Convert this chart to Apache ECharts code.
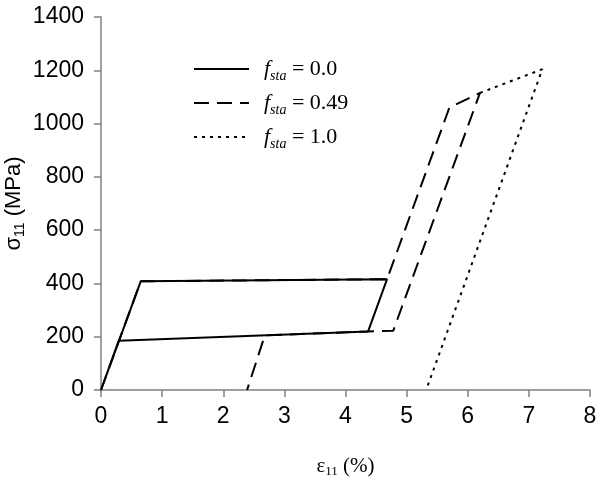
<!DOCTYPE html>
<html>
<head>
<meta charset="utf-8">
<script src="https://cdn.jsdelivr.net/npm/echarts@6/dist/echarts.min.js"></script>
<style>
  html, body { margin: 0; padding: 0; background: #fff; }
  #chart { width: 596px; height: 494px; }
</style>
</head>
<body>
<div id="chart"></div>
<script>
// strain (%) / stress (MPa)
var names = ['0.0', '0.49', '1.0'];
var solidX = [0, 0.65, 4.68, 4.37, 0.29, 0];
var solidY = [0, 408, 416, 220, 185, 0];
var dashX = [0, 0.65, 4.68, 5.70, 6.20, 4.78, 4.37, 2.68, 2.39];
var dashY = [0, 408, 416, 1060, 1115, 222, 220, 205, 0];
var dotX = [6.20, 7.22, 5.32];
var dotY = [1115, 1204, 0];
var xTicks = [0, 8, 1];
var yTicks = [0, 1400, 200];

function pairs(xs, ys) {
  return xs.map(function (x, i) { return [x, ys[i]]; });
}

var chart = echarts.init(document.getElementById('chart'));
var axisGray = '#808080';
var serif = '"Liberation Serif", "Times New Roman", serif';
var sans = '"Liberation Sans", Arial, sans-serif';

function lineSeries(name, data, type) {
  return {
    name: name,
    type: 'line',
    data: data,
    symbol: 'none',
    animation: false,
    lineStyle: { color: '#000', width: 2, type: type },
    itemStyle: { color: '#000' }
  };
}

var option = {
  backgroundColor: '#fff',
  grid: { left: 101, right: 6, top: 17, bottom: 104, containLabel: false, outerBoundsMode: 'none' },
  legend: {
    orient: 'vertical',
    left: 188,
    top: 53,
    itemWidth: 55,
    itemHeight: 14,
    itemGap: 9,
    data: names,
    itemStyle: { opacity: 0 },
    formatter: function (n) { return '{f|f}{s|sta}{t| = ' + n + '}'; },
    textStyle: {
      padding: [0, 0, 0, 10],
      rich: {
        f: { fontFamily: serif, fontStyle: 'italic', fontSize: 22, lineHeight: 28, color: '#000' },
        s: { fontFamily: serif, fontStyle: 'italic', fontSize: 14, lineHeight: 13, verticalAlign: 'bottom', color: '#000' },
        t: { fontFamily: serif, fontSize: 22, lineHeight: 28, color: '#000' }
      }
    }
  },
  xAxis: {
    type: 'value',
    min: xTicks[0], max: xTicks[1], interval: xTicks[2],
    name: '{g|ε}{s|11}{t| (%)}',
    nameLocation: 'middle',
    nameMoveOverlap: false,
    nameGap: 64,
    nameTextStyle: {
      rich: {
        g: { fontFamily: serif, fontSize: 21, lineHeight: 24, color: '#000' },
        s: { fontFamily: serif, fontSize: 13, lineHeight: 12, verticalAlign: 'bottom', color: '#000' },
        t: { fontFamily: serif, fontSize: 21, lineHeight: 24, color: '#000' }
      }
    },
    axisLine: { lineStyle: { color: axisGray, width: 1.5 } },
    axisTick: { length: 7, lineStyle: { color: axisGray, width: 1.5 } },
    axisLabel: { margin: 15, fontFamily: sans, fontSize: 23, color: '#000', formatter: function (v) { return String(v); } },
    splitLine: { show: false }
  },
  yAxis: {
    type: 'value',
    min: yTicks[0], max: yTicks[1], interval: yTicks[2],
    name: '{g|σ}{s|11}{t| (MPa)}',
    nameLocation: 'middle',
    nameMoveOverlap: false,
    nameGap: 74,
    nameTextStyle: {
      rich: {
        g: { fontFamily: sans, fontSize: 22, lineHeight: 26, color: '#000' },
        s: { fontFamily: sans, fontSize: 14, lineHeight: 14, verticalAlign: 'bottom', color: '#000' },
        t: { fontFamily: sans, fontSize: 22, lineHeight: 26, color: '#000' }
      }
    },
    axisLine: { show: true, lineStyle: { color: axisGray, width: 1.5 } },
    axisTick: { show: true, length: 7, lineStyle: { color: axisGray, width: 1.5 } },
    axisLabel: { margin: 17, fontFamily: sans, fontSize: 23, color: '#000', formatter: function (v) { return String(v); } },
    splitLine: { show: false }
  },
  series: [
    lineSeries(names[0], pairs(solidX, solidY), 'solid'),
    lineSeries(names[1], pairs(dashX, dashY), [15, 8]),
    lineSeries(names[2], pairs(dotX, dotY), [3, 5])
  ]
};

chart.setOption(option);
</script>
</body>
</html>
